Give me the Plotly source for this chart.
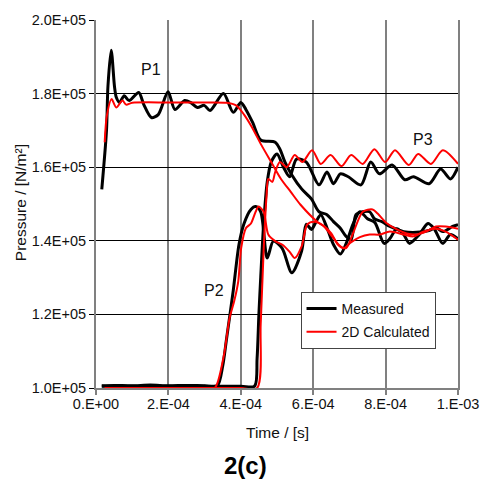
import plotly.graph_objects as go

# ---------------- data (time in s, pressure in N/m^2) ----------------
p1_meas_t = [1.6e-5, 2.9e-5, 3.3e-5, 4.2e-5, 5.1e-5, 5.6e-5, 6.5e-5, 7.8e-5, 9.15e-5, 1.18e-4,
             1.32e-4, 1.53e-4, 1.72e-4, 1.99e-4, 2.18e-4, 2.45e-4, 2.61e-4, 2.80e-4, 2.99e-4, 3.15e-4,
             3.52e-4, 3.79e-4, 4.00e-4, 4.14e-4, 4.33e-4, 4.55e-4, 4.95e-4, 5.08e-4, 5.22e-4, 5.41e-4,
             5.68e-4, 5.95e-4, 6.16e-4, 6.38e-4, 6.56e-4, 6.75e-4, 6.91e-4, 7.05e-4, 7.18e-4, 7.37e-4,
             7.56e-4, 7.69e-4, 7.90e-4, 8.12e-4, 8.50e-4, 8.85e-4, 9.20e-4, 9.39e-4, 9.58e-4, 9.85e-4,
             1.0e-3]
p1_meas_p = [1.54e5, 1.70e5, 1.82e5, 1.918e5, 1.82e5, 1.79e5, 1.776e5, 1.794e5, 1.781e5, 1.803e5,
             1.770e5, 1.735e5, 1.743e5, 1.805e5, 1.757e5, 1.781e5, 1.776e5, 1.762e5, 1.768e5, 1.754e5,
             1.800e5, 1.749e5, 1.776e5, 1.757e5, 1.721e5, 1.674e5, 1.668e5, 1.649e5, 1.614e5, 1.579e5,
             1.541e5, 1.514e5, 1.479e5, 1.471e5, 1.452e5, 1.434e5, 1.412e5, 1.404e5, 1.471e5, 1.479e5,
             1.479e5, 1.460e5, 1.452e5, 1.439e5, 1.425e5, 1.423e5, 1.428e5, 1.436e5, 1.425e5, 1.439e5,
             1.444e5]

p2_meas_t = [1.6e-5, 5.0e-5, 1.0e-4, 1.5e-4, 2.0e-4, 2.5e-4, 3.0e-4, 3.35e-4, 3.5e-4, 3.6e-4,
             3.79e-4, 3.95e-4, 4.09e-4, 4.28e-4, 4.41e-4, 4.55e-4, 4.73e-4, 4.90e-4, 5.14e-4, 5.41e-4,
             5.68e-4, 5.81e-4, 5.95e-4, 6.08e-4, 6.21e-4, 6.40e-4, 6.56e-4, 6.75e-4, 6.90e-4, 7.10e-4,
             7.29e-4, 7.50e-4, 7.70e-4, 7.96e-4, 8.12e-4, 8.31e-4, 8.50e-4, 8.66e-4, 8.93e-4, 9.17e-4,
             9.34e-4, 9.58e-4, 9.79e-4, 1.0e-3]
p2_meas_p = [1.006e5, 1.007e5, 1.006e5, 1.008e5, 1.006e5, 1.007e5, 1.006e5, 1.006e5, 1.06e5, 1.129e5,
             1.264e5, 1.39e5, 1.447e5, 1.485e5, 1.493e5, 1.479e5, 1.353e5, 1.399e5, 1.38e5, 1.313e5,
             1.372e5, 1.445e5, 1.431e5, 1.452e5, 1.471e5, 1.43e5, 1.39e5, 1.364e5, 1.39e5, 1.445e5,
             1.479e5, 1.46e5, 1.45e5, 1.393e5, 1.406e5, 1.433e5, 1.417e5, 1.393e5, 1.417e5, 1.447e5,
             1.433e5, 1.393e5, 1.417e5, 1.405e5]

p3_meas_t = [1.6e-5, 1.0e-4, 2.0e-4, 3.0e-4, 4.0e-4, 4.38e-4, 4.45e-4, 4.50e-4, 4.55e-4, 4.63e-4,
             4.73e-4, 4.84e-4, 5.00e-4, 5.18e-4, 5.35e-4, 5.54e-4, 5.81e-4, 6.16e-4, 6.38e-4, 6.56e-4,
             6.75e-4, 6.97e-4, 7.32e-4, 7.59e-4, 7.83e-4, 8.18e-4, 8.53e-4, 8.77e-4, 9.20e-4, 9.52e-4,
             9.79e-4, 1.0e-3]
p3_meas_p = [1.005e5, 1.005e5, 1.005e5, 1.005e5, 1.005e5, 1.005e5, 1.08e5, 1.2e5, 1.3e5, 1.445e5,
             1.56e5, 1.614e5, 1.636e5, 1.6e5, 1.574e5, 1.622e5, 1.614e5, 1.552e5, 1.587e5, 1.555e5,
             1.582e5, 1.574e5, 1.552e5, 1.614e5, 1.582e5, 1.606e5, 1.566e5, 1.574e5, 1.555e5, 1.595e5,
             1.568e5, 1.60e5]

p1_calc_t = [2.4e-5, 3.0e-5, 4.3e-5, 5.6e-5, 7.3e-5, 8.3e-5, 1.0e-4, 2.0e-4, 3.0e-4, 3.6e-4,
             3.87e-4, 4.09e-4, 4.30e-4, 4.57e-4, 4.84e-4, 5.11e-4, 5.38e-4, 5.65e-4, 6.11e-4, 6.30e-4,
             6.56e-4, 6.75e-4, 6.91e-4, 7.10e-4, 7.37e-4, 7.64e-4, 7.78e-4, 8.04e-4, 8.31e-4, 8.58e-4,
             8.85e-4, 9.12e-4, 9.39e-4, 9.66e-4, 1.0e-3]
p1_calc_p = [1.668e5, 1.74e5, 1.785e5, 1.762e5, 1.781e5, 1.77e5, 1.775e5, 1.776e5, 1.776e5, 1.775e5,
             1.768e5, 1.743e5, 1.71e5, 1.66e5, 1.614e5, 1.568e5, 1.533e5, 1.498e5, 1.452e5, 1.439e5,
             1.407e5, 1.385e5, 1.38e5, 1.42e5, 1.479e5, 1.485e5, 1.474e5, 1.447e5, 1.431e5, 1.42e5,
             1.417e5, 1.425e5, 1.439e5, 1.439e5, 1.433e5]

p2_calc_t = [2.4e-5, 1.0e-4, 2.0e-4, 3.0e-4, 3.28e-4, 3.52e-4, 3.69e-4, 3.82e-4, 3.93e-4, 4.01e-4,
             4.14e-4, 4.28e-4, 4.41e-4, 4.49e-4, 4.63e-4, 4.76e-4, 4.95e-4, 5.14e-4, 5.35e-4, 5.49e-4,
             5.68e-4, 5.84e-4, 6.03e-4, 6.30e-4, 6.50e-4, 6.68e-4, 6.85e-4, 7.03e-4, 7.29e-4, 7.56e-4,
             7.83e-4, 8.12e-4, 8.50e-4, 8.77e-4, 9.04e-4, 9.39e-4, 9.66e-4, 1.0e-3]
p2_calc_p = [1.0e5, 1.0e5, 1.0e5, 1.0e5, 1.0e5, 1.082e5, 1.19e5, 1.237e5, 1.29e5, 1.38e5,
             1.434e5, 1.447e5, 1.479e5, 1.493e5, 1.479e5, 1.417e5, 1.399e5, 1.39e5, 1.37e5, 1.353e5,
             1.385e5, 1.445e5, 1.452e5, 1.44e5, 1.42e5, 1.39e5, 1.38e5, 1.395e5, 1.41e5, 1.417e5,
             1.417e5, 1.425e5, 1.417e5, 1.412e5, 1.425e5, 1.433e5, 1.425e5, 1.403e5]

p3_calc_t = [2.4e-5, 1.0e-4, 2.0e-4, 3.0e-4, 4.0e-4, 4.45e-4, 4.55e-4, 4.63e-4, 4.71e-4, 4.76e-4,
             4.87e-4, 4.95e-4, 5.08e-4, 5.27e-4, 5.49e-4, 5.70e-4, 5.97e-4, 6.21e-4, 6.48e-4, 6.78e-4,
             7.05e-4, 7.37e-4, 7.69e-4, 7.99e-4, 8.26e-4, 8.64e-4, 8.90e-4, 9.25e-4, 9.58e-4, 1.0e-3]
p3_calc_p = [1.0e5, 1.0e5, 1.0e5, 1.0e5, 1.0e5, 1.0e5, 1.175e5, 1.372e5, 1.52e5, 1.568e5,
             1.56e5, 1.587e5, 1.614e5, 1.60e5, 1.633e5, 1.614e5, 1.646e5, 1.609e5, 1.633e5, 1.603e5,
             1.633e5, 1.609e5, 1.649e5, 1.614e5, 1.646e5, 1.606e5, 1.636e5, 1.609e5, 1.646e5, 1.609e5]

y_tick_vals = [1.0e5, 1.2e5, 1.4e5, 1.6e5, 1.8e5, 2.0e5]
y_tick_text = ["1.0E+05", "1.2E+05", "1.4E+05", "1.6E+05", "1.8E+05", "2.0E+05"]
x_tick_vals = [0.0, 2e-4, 4e-4, 6e-4, 8e-4, 1e-3]
x_tick_text = ["0.E+00", "2.E-04", "4.E-04", "6.E-04", "8.E-04", "1.E-03"]

series_labels = ["Measured", "2D Calculated"]
point_labels = ["P1", "P2", "P3"]
label_pos_t = [1.507e-4, 3.255e-4, 9.04e-4]
label_pos_p = [1.865e5, 1.264e5, 1.676e5]

FONT = "Liberation Sans, Arial, sans-serif"

fig = go.Figure()

meas = [(p1_meas_t, p1_meas_p), (p2_meas_t, p2_meas_p), (p3_meas_t, p3_meas_p)]
calc = [(p1_calc_t, p1_calc_p), (p2_calc_t, p2_calc_p), (p3_calc_t, p3_calc_p)]

for i, (t, p) in enumerate(meas):
    fig.add_trace(go.Scatter(x=t, y=p, mode="lines", name=series_labels[0],
                             legendgroup="meas", showlegend=(i == 0),
                             line=dict(color="#000000", width=3, shape="spline", smoothing=0.8)))
for i, (t, p) in enumerate(calc):
    fig.add_trace(go.Scatter(x=t, y=p, mode="lines", name=series_labels[1],
                             legendgroup="calc", showlegend=(i == 0),
                             line=dict(color="#ff0000", width=2, shape="spline", smoothing=0.8)))

for lbl, tx, py in zip(point_labels, label_pos_t, label_pos_p):
    fig.add_annotation(x=tx, y=py, text=lbl, showarrow=False,
                       xanchor="center", yanchor="middle",
                       font=dict(family=FONT, size=16, color="#111111"))

fig.add_annotation(xref="paper", yref="paper", x=-0.21, y=0.505, text="Pressure / [N/m²]",
                   textangle=-90, showarrow=False, xanchor="center", yanchor="middle",
                   font=dict(family=FONT, size=15.5, color="#111111"))
fig.add_annotation(xref="paper", yref="paper", x=0.5, y=-0.1212, text="Time / [s]",
                   showarrow=False, xanchor="center", yanchor="middle",
                   font=dict(family=FONT, size=15.5, color="#111111"))
fig.add_annotation(xref="paper", yref="paper", x=0.414, y=-0.21, text="<b>2(c)</b>",
                   showarrow=False, xanchor="center", yanchor="middle",
                   font=dict(family=FONT, size=24, color="#000000"))

fig.update_layout(
    width=491, height=483,
    margin=dict(l=96, r=23, t=17, b=95),
    paper_bgcolor="white", plot_bgcolor="white",
    font=dict(family=FONT, size=14.5, color="#111111"),
    legend=dict(x=0.565, y=0.2613, xanchor="left", yanchor="top",
                bgcolor="white", bordercolor="#444444", borderwidth=1,
                font=dict(family=FONT, size=14, color="#111111"),
                tracegroupgap=2),
    xaxis=dict(range=[0, 1e-3], tickvals=x_tick_vals, ticktext=x_tick_text,
               showgrid=True, gridcolor="#808080", gridwidth=2,
               showline=True, linecolor="#808080", linewidth=2, mirror=False,
               ticks="outside", ticklen=5, tickcolor="#808080", tickwidth=2,
               ticklabelstandoff=-3, zeroline=False),
    yaxis=dict(range=[1.0e5, 2.0e5], tickvals=y_tick_vals, ticktext=y_tick_text,
               showgrid=True, gridcolor="#000000", gridwidth=1,
               showline=True, linecolor="#808080", linewidth=2, mirror=True,
               ticks="outside", ticklen=5, tickcolor="#000000", tickwidth=1,
               zeroline=False),
)

fig.write_html("out.html")
